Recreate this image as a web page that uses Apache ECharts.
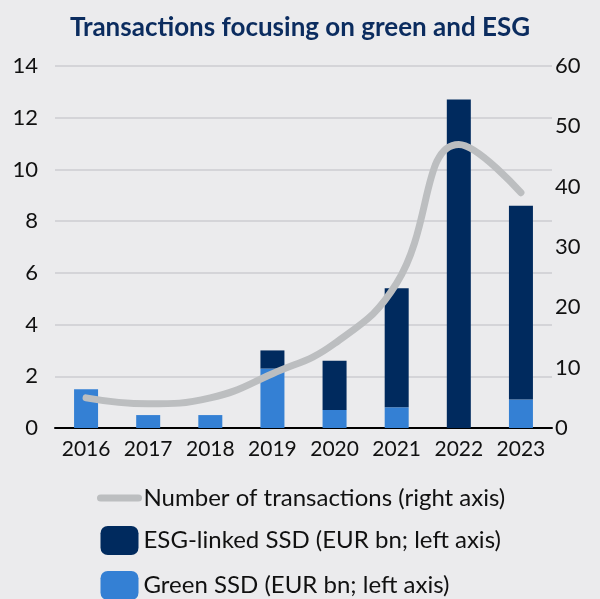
<!DOCTYPE html>
<html>
<head>
<meta charset="utf-8">
<script src="https://cdn.jsdelivr.net/npm/echarts@6/dist/echarts.min.js"></script>
<style>
  html, body { margin: 0; padding: 0; background: #ebebed; }
  #chart { width: 600px; height: 599px; }
</style>
</head>
<body>
<div id="chart"></div>
<script>
var years = ['2016', '2017', '2018', '2019', '2020', '2021', '2022', '2023'];
var greenSSD = [1.5, 0.5, 0.5, 2.3, 0.7, 0.8, 0, 1.1];
var esgSSD = [0, 0, 0, 0.7, 1.9, 4.6, 12.7, 7.5];
var transactions = [5, 4, 5, 9, 14, 24, 47, 39];

var myChart = echarts.init(document.getElementById('chart'));

var font = 'Lato, "Open Sans", sans-serif';

option = {
  backgroundColor: '#ebebed',
  title: {
    text: 'Transactions focusing on green and ESG',
    left: 'center',
    top: 10,
    textStyle: {
      fontFamily: font,
      fontWeight: 'bold',
      fontSize: 26,
      color: '#0b2c5f'
    }
  },
  legend: {
    orient: 'vertical',
    left: 97,
    top: 486,
    height: 160,
    padding: 0,
    itemWidth: 38,
    itemHeight: 29,
    itemGap: 16,
    textStyle: { fontFamily: font, fontSize: 24, color: '#111' },
    data: [
      {
        name: 'Number of transactions (right axis)',
        itemStyle: { opacity: 0 },
        lineStyle: { color: '#bcbec0', width: 7, cap: 'round' }
      },
      { name: 'ESG-linked SSD (EUR bn; left axis)' },
      { name: 'Green SSD (EUR bn; left axis)' }
    ]
  },
  grid: {
    left: 55,
    right: 48,
    top: 66,
    bottom: 171
  },
  xAxis: {
    type: 'category',
    data: years,
    axisTick: { show: false },
    axisLine: { lineStyle: { color: '#000', width: 2 } },
    axisLabel: { interval: 0, fontFamily: font, fontSize: 21, color: '#111', margin: 11 }
  },
  yAxis: [
    {
      type: 'value',
      min: 0,
      max: 14,
      interval: 2,
      axisLabel: { fontFamily: font, fontSize: 22, color: '#111', margin: 17 },
      splitLine: { lineStyle: { color: '#cdcdd0', width: 1.5 } }
    },
    {
      type: 'value',
      min: 0,
      max: 60,
      interval: 10,
      axisLabel: { fontFamily: font, fontSize: 22, color: '#111', margin: 3 },
      splitLine: { show: false }
    }
  ],
  series: [
    {
      name: 'Green SSD (EUR bn; left axis)',
      type: 'bar',
      stack: 'ssd',
      barWidth: 24,
      data: greenSSD,
      itemStyle: { color: '#3480d4' }
    },
    {
      name: 'ESG-linked SSD (EUR bn; left axis)',
      type: 'bar',
      stack: 'ssd',
      barWidth: 24,
      data: esgSSD,
      itemStyle: { color: '#002a5e' }
    },
    {
      name: 'Number of transactions (right axis)',
      type: 'line',
      yAxisIndex: 1,
      smooth: 0.45,
      showSymbol: false,
      symbol: 'none',
      data: transactions,
      itemStyle: { color: '#bcbec0' },
      lineStyle: { color: '#bcbec0', width: 7, cap: 'round' },
      z: 5
    }
  ],
  color: ['#3480d4', '#002a5e', '#bcbec0']
};

myChart.setOption(option);

window.addEventListener('resize', function () {
  myChart.resize();
});
</script>
</body>
</html>
